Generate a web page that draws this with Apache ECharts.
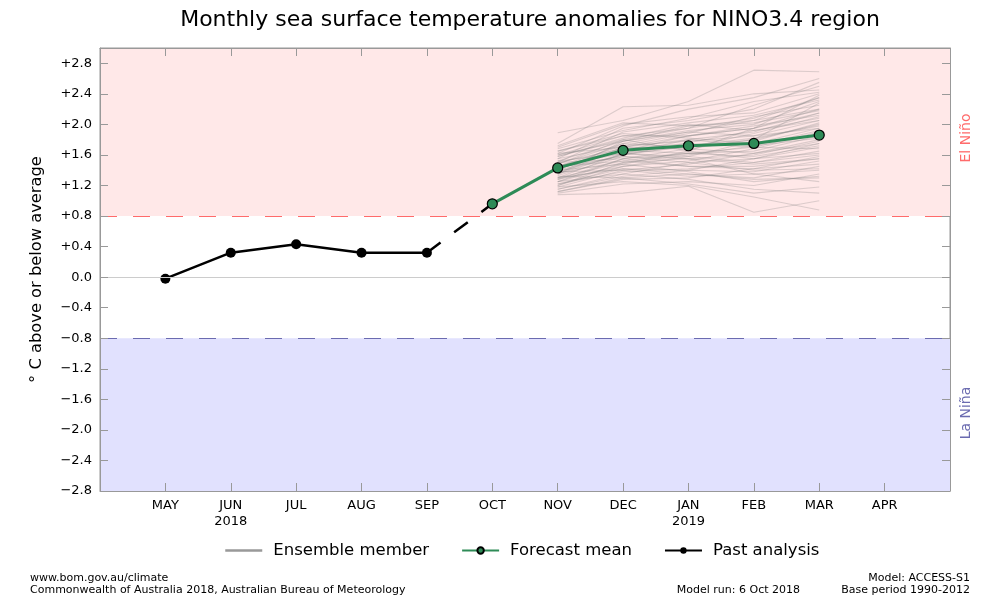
<!DOCTYPE html>
<html>
<head>
<meta charset="utf-8">
<script src="https://cdn.jsdelivr.net/npm/echarts@6/dist/echarts.min.js"></script>
<style>
  html, body { margin: 0; padding: 0; background: #fff; }
  #chart { width: 1000px; height: 600px; }
</style>
</head>
<body>
<div id="chart"></div>
<script>
// month positions: 1 = MAY 2018 ... 12 = APR 2019
const months = ['MAY', 'JUN', 'JUL', 'AUG', 'SEP', 'OCT', 'NOV', 'DEC', 'JAN', 'FEB', 'MAR', 'APR']
const yearLabels = { JUN: '2018', JAN: '2019' }

// past analysis MAY..SEP
const pastValues = [-0.02, 0.32, 0.43, 0.32, 0.32]
// forecast mean OCT..MAR
const forecastValues = [0.96, 1.43, 1.66, 1.72, 1.75, 1.86]

// ensemble members NOV, DEC, JAN, FEB, MAR
const ensembleMembers = [
  [1.89, 2.05, 2.30, 2.71, 2.69],
  [1.75, 2.23, 2.25, 2.40, 2.45],
  [1.62, 1.98, 2.20, 2.35, 2.60],
  [1.55, 1.95, 2.05, 2.20, 2.55],
  [1.70, 2.00, 2.10, 2.15, 2.40],
  [1.48, 1.80, 1.95, 2.25, 2.50],
  [1.40, 1.75, 1.90, 2.05, 2.35],
  [1.60, 1.85, 1.85, 1.95, 2.20],
  [1.52, 1.78, 1.92, 2.00, 2.30],
  [1.35, 1.70, 1.80, 1.90, 2.15],
  [1.45, 1.72, 1.78, 1.85, 2.05],
  [1.30, 1.62, 1.70, 1.88, 2.10],
  [1.65, 1.88, 1.82, 1.75, 1.95],
  [1.25, 1.55, 1.68, 1.80, 2.00],
  [1.50, 1.68, 1.75, 1.70, 1.90],
  [1.38, 1.60, 1.72, 1.82, 1.98],
  [1.42, 1.66, 1.62, 1.65, 1.85],
  [1.20, 1.50, 1.60, 1.72, 1.92],
  [1.58, 1.80, 1.65, 1.55, 1.70],
  [1.33, 1.58, 1.55, 1.60, 1.78],
  [1.28, 1.45, 1.52, 1.68, 1.88],
  [1.18, 1.40, 1.48, 1.62, 1.80],
  [1.46, 1.62, 1.58, 1.50, 1.60],
  [1.36, 1.52, 1.45, 1.45, 1.55],
  [1.22, 1.38, 1.42, 1.50, 1.65],
  [1.15, 1.32, 1.40, 1.38, 1.52],
  [1.30, 1.42, 1.35, 1.30, 1.45],
  [1.12, 1.28, 1.30, 1.42, 1.58],
  [1.40, 1.48, 1.38, 1.25, 1.32],
  [1.10, 1.22, 1.25, 1.20, 1.35],
  [1.25, 1.35, 1.28, 1.15, 1.10],
  [1.08, 1.10, 1.19, 0.85, 1.00],
  [1.18, 1.25, 1.20, 1.05, 0.88],
  [1.32, 1.30, 1.22, 1.10, 1.18],
  [1.44, 1.58, 1.50, 1.40, 1.42],
  [1.55, 1.72, 1.88, 2.10, 2.25],
  [1.50, 1.90, 2.02, 2.12, 2.32],
  [1.35, 1.78, 1.98, 2.02, 2.18],
  [1.68, 1.92, 2.08, 2.30, 2.42],
  [1.45, 1.65, 1.85, 1.98, 2.12],
  [1.28, 1.55, 1.62, 1.58, 1.72],
  [1.62, 1.70, 1.68, 1.62, 1.75],
  [1.40, 1.60, 1.76, 1.92, 2.08],
  [1.20, 1.45, 1.58, 1.78, 2.02],
  [1.52, 1.62, 1.55, 1.35, 1.40],
  [1.38, 1.40, 1.32, 1.35, 1.25],
  [1.15, 1.35, 1.50, 1.55, 1.62],
  [1.60, 1.78, 1.90, 1.85, 1.95],
  [1.48, 1.75, 1.70, 1.80, 2.28],
  [1.25, 1.48, 1.65, 1.95, 2.38],
  [1.72, 2.02, 1.98, 2.05, 2.20],
  [1.58, 1.82, 2.00, 1.92, 2.05],
  [1.42, 1.70, 1.85, 1.95, 2.15],
  [1.30, 1.50, 1.55, 1.48, 1.55],
  [1.22, 1.42, 1.40, 1.55, 1.75],
  [1.50, 1.55, 1.45, 1.42, 1.48],
  [1.35, 1.62, 1.80, 1.72, 1.82],
  [1.65, 1.85, 1.95, 2.08, 2.35],
  [1.45, 1.52, 1.62, 1.70, 1.68],
  [1.12, 1.30, 1.35, 1.28, 1.30]
]

const elNinoThreshold = 0.8
const laNinaThreshold = -0.8

const font = 'DejaVu Sans'

let pastData = pastValues.map((v, i) => [i + 1, v])
let forecastData = forecastValues.map((v, i) => [i + 6, v])
let bridgeData = [[5, pastValues[4]], [6, forecastValues[0]]]

let series = []

// background bands + threshold lines
series.push({
  type: 'line',
  data: [],
  silent: true,
  z: 1,
  markArea: {
    silent: true,
    data: [
      [{ yAxis: elNinoThreshold, itemStyle: { color: '#ffe8e8' } }, { yAxis: 3.0 }],
      [{ yAxis: -2.8, itemStyle: { color: '#e1e1fe' } }, { yAxis: laNinaThreshold }]
    ]
  },
  markLine: {
    silent: true,
    symbol: 'none',
    label: { show: false },
    data: [
      { yAxis: 0, lineStyle: { color: '#cccccc', type: 'solid', width: 1 } },
      { yAxis: elNinoThreshold, lineStyle: { color: '#ff6b6b', type: [17, 16], width: 1.2 } },
      { yAxis: laNinaThreshold, lineStyle: { color: '#6b6bb0', type: [17, 16], width: 1.2 } }
    ]
  }
})

ensembleMembers.forEach(m => {
  series.push({
    name: 'Ensemble member',
    type: 'line',
    data: m.map((v, i) => [i + 7, v]),
    symbol: 'none',
    silent: true,
    z: 2,
    lineStyle: { color: '#808080', width: 1.1, opacity: 0.28 },
    itemStyle: { color: '#999999' }
  })
})

series.push({
  type: 'line',
  data: bridgeData,
  symbol: 'none',
  z: 3,
  lineStyle: { color: '#000', width: 2.5, type: [17, 17] }
})

series.push({
  name: 'Forecast mean',
  type: 'line',
  data: forecastData,
  symbol: 'circle',
  symbolSize: 10,
  z: 4,
  lineStyle: { color: '#2e8b57', width: 3 },
  itemStyle: { color: '#2e8b57', borderColor: '#000', borderWidth: 1.2 }
})

series.push({
  name: 'Past analysis',
  type: 'line',
  data: pastData,
  symbol: 'circle',
  symbolSize: 10,
  z: 4,
  lineStyle: { color: '#000', width: 2.5 },
  itemStyle: { color: '#000' }
})

function monthLabel(v) {
  let m = months[Math.round(v) - 1]
  if (!m) return ''
  return yearLabels[m] ? m + '\n' + yearLabels[m] : m
}

function yLabel(v) {
  if (v > 2.9) return ''
  if (Math.abs(v) < 0.001) return '0.0'
  if (v > 0) return '+' + v.toFixed(1)
  return '\u2212' + Math.abs(v).toFixed(1)
}

const axisGray = '#999999'

function frameAxis(extra) {
  return Object.assign({
    type: 'value',
    z: 10,
    splitLine: { show: false },
    axisLine: { show: true, onZero: false, lineStyle: { color: axisGray } },
    axisTick: { show: true, inside: true, length: 8, lineStyle: { color: axisGray } },
    axisLabel: { show: false }
  }, extra)
}

const option = {
  animation: false,
  backgroundColor: '#fff',
  textStyle: { fontFamily: font },
  title: {
    text: 'Monthly sea surface temperature anomalies for NINO3.4 region',
    left: 525,
    top: 4,
    textAlign: 'center',
    textStyle: { fontFamily: font, fontSize: 22, fontWeight: 'normal', color: '#000' }
  },
  grid: {
    left: 100,
    right: 50,
    top: 48,
    bottom: 109,
    show: true,
    borderColor: axisGray,
    borderWidth: 1,
    backgroundColor: 'transparent'
  },
  legend: {
    top: 537,
    left: 219,
    itemWidth: 37,
    itemHeight: 8,
    itemGap: 32,
    textStyle: { fontFamily: font, fontSize: 16.5, color: '#000', padding: [0, 0, 0, 6] },
    data: [
      { name: 'Ensemble member', itemStyle: { opacity: 0 }, lineStyle: { color: '#999999', width: 2.5, opacity: 1 } },
      { name: 'Forecast mean' },
      { name: 'Past analysis' }
    ]
  },
  xAxis: [
    frameAxis({
      position: 'bottom',
      min: 0,
      max: 13,
      interval: 1,
      axisLabel: {
        formatter: monthLabel,
        fontFamily: font,
        fontSize: 13,
        color: '#000',
        margin: 7,
        lineHeight: 16,
        showMinLabel: false,
        showMaxLabel: false
      }
    }),
    frameAxis({ position: 'top', min: 0, max: 13, interval: 1 })
  ],
  yAxis: [
    frameAxis({
      position: 'left',
      min: -2.8,
      max: 3.0,
      interval: 0.4,
      axisLabel: { formatter: yLabel, fontFamily: font, fontSize: 13, color: '#000', margin: 8 },
      name: '\u00b0 C above or below average',
      nameLocation: 'middle',
      nameRotate: 90,
      nameGap: 55,
      nameTextStyle: { fontFamily: font, fontSize: 16.3, color: '#000' }
    }),
    frameAxis({ position: 'right', min: -2.8, max: 3.0, interval: 0.4 })
  ],
  graphic: [
    {
      type: 'text', x: 966, y: 138, rotation: Math.PI / 2,
      style: { text: 'El Ni\u00f1o', fill: '#ff6b6b', font: '14px "DejaVu Sans"', align: 'center', verticalAlign: 'middle' }
    },
    {
      type: 'text', x: 966, y: 413, rotation: Math.PI / 2,
      style: { text: 'La Ni\u00f1a', fill: '#6b6bb0', font: '14px "DejaVu Sans"', align: 'center', verticalAlign: 'middle' }
    },
    {
      type: 'text', x: 30, y: 578,
      style: { text: 'www.bom.gov.au/climate', fill: '#000', font: '11px "DejaVu Sans"', verticalAlign: 'middle' }
    },
    {
      type: 'text', x: 30, y: 590,
      style: { text: 'Commonwealth of Australia 2018, Australian Bureau of Meteorology', fill: '#000', font: '11px "DejaVu Sans"', verticalAlign: 'middle' }
    },
    {
      type: 'text', x: 800, y: 590,
      style: { text: 'Model run: 6 Oct 2018', fill: '#000', font: '11px "DejaVu Sans"', align: 'right', verticalAlign: 'middle' }
    },
    {
      type: 'text', x: 970, y: 578,
      style: { text: 'Model: ACCESS-S1', fill: '#000', font: '11px "DejaVu Sans"', align: 'right', verticalAlign: 'middle' }
    },
    {
      type: 'text', x: 970, y: 590,
      style: { text: 'Base period 1990-2012', fill: '#000', font: '11px "DejaVu Sans"', align: 'right', verticalAlign: 'middle' }
    }
  ],
  series: series
}

let chart = echarts.init(document.getElementById('chart'))
chart.setOption(option)
</script>
</body>
</html>
